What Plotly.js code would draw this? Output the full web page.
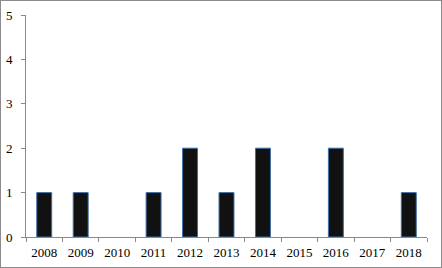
<!DOCTYPE html>
<html><head><meta charset="utf-8">
<script src="https://cdn.plot.ly/plotly-3.0.1.min.js"></script>
<style>
html,body{margin:0;padding:0;background:#fff;}
#wrap{width:442px;height:268px;box-sizing:border-box;border:1px solid #8c8c8c;overflow:hidden;}
#chart{width:440px;height:266px;}
</style></head>
<body><div id="wrap"><div id="chart"></div></div>
<script>
const years = ['2008','2009','2010','2011','2012','2013','2014','2015','2016','2017','2018'];
const counts = [1,1,0,1,2,1,2,0,2,0,1];
const yTicks = [0,1,2,3,4,5];

Plotly.newPlot('chart', [{
  type: 'bar',
  x: years,
  y: counts,
  width: 0.41,
  marker: {color: '#111111', line: {color: '#3f6fa8', width: counts.map(v => v > 0 ? 1 : 0)}},
  hoverinfo: 'none'
}], {
  width: 440, height: 266,
  margin: {l: 25, r: 14, t: 14, b: 30},
  paper_bgcolor: '#fff', plot_bgcolor: '#fff',
  font: {family: '"Liberation Serif", "Times New Roman", serif', size: 13, color: '#000'},
  showlegend: false,
  xaxis: {
    type: 'category', showgrid: false, zeroline: false,
    showline: true, linecolor: '#888', linewidth: 1,
    ticks: 'outside', tickson: 'boundaries', ticklen: 4, tickcolor: '#888',
    ticklabelstandoff: 3,
    tickfont: {size: 13}
  },
  yaxis: {
    range: [0, 5], tickvals: yTicks, showgrid: false, zeroline: false,
    showline: true, linecolor: '#888', linewidth: 1,
    ticks: 'outside', ticklen: 4, tickcolor: '#888',
    ticklabelstandoff: 6,
    tickfont: {size: 13}
  }
}, {staticPlot: true});
</script></body></html>
